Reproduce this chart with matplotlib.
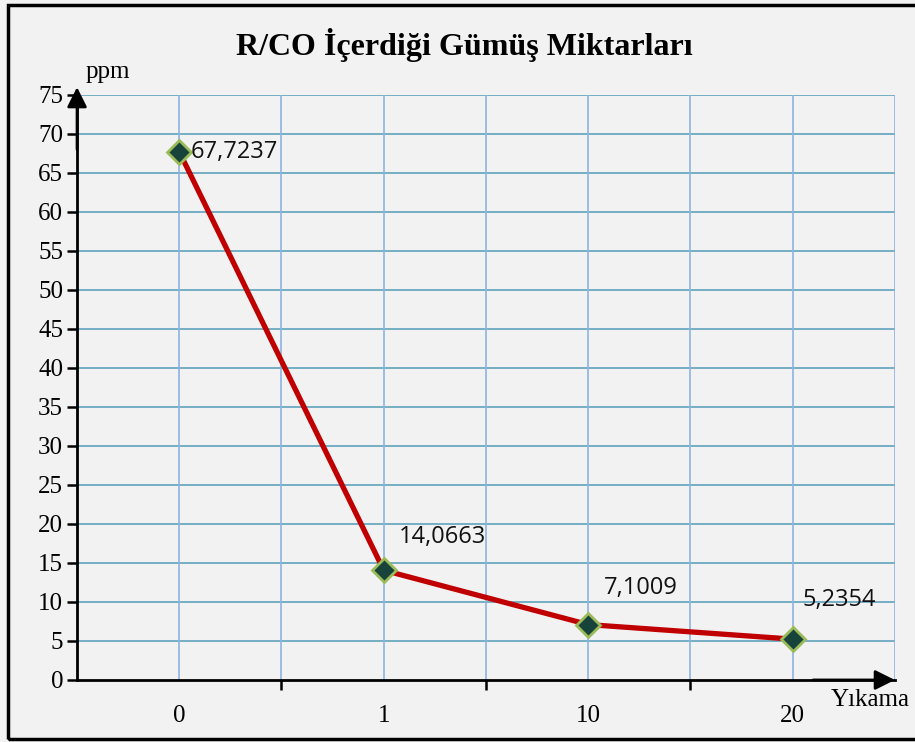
import matplotlib.pyplot as plt
from matplotlib.patches import Rectangle

# data
categories = ['0', '1', '10', '20']
values = [67.7237, 14.0663, 7.1009, 5.2354]
labels = ['67,7237', '14,0663', '7,1009', '5,2354']
label_offsets = [(8, 0), (11, 24), (11, 26), (7, 28)]
yticks = list(range(0, 80, 5))

fig = plt.figure(figsize=(9.15, 7.42), dpi=100)
fig.patch.set_facecolor('#f2f2f2')
ax = fig.add_axes([0.0842, 0.0836, 0.8938, 0.7884])
ax.set_facecolor('#f2f2f2')

x = list(range(len(categories)))

# grid
for yv in yticks[1:]:
    ax.axhline(yv, color='#5fa3bb', lw=1.2, zorder=1)
for xv in [i * 0.5 for i in range(0, 8)]:
    ax.axvline(xv, color='#8db3e2', lw=1.2, zorder=1)

ax.plot(x, values, color='#c00000', lw=3.8, zorder=3,
        marker='D', markersize=12, markerfacecolor='#17433a',
        markeredgecolor='#9bbb59', markeredgewidth=2)

for xi, v, lab, off in zip(x, values, labels, label_offsets):
    ax.annotate(lab, (xi, v), xytext=off, textcoords='offset points',
                ha='left', va='center', fontsize=17, family='Open Sans',
                color='#111111', zorder=4)

ax.set_xlim(-0.5, 3.5)
ax.set_ylim(0, 75)
ax.set_yticks(yticks)
ax.set_yticklabels([str(t) for t in yticks], family='Liberation Serif', fontsize=18)
ax.set_xticks([0.5, 1.5, 2.5])
ax.set_xticklabels([])
ax.tick_params(axis='y', direction='out', length=7, width=1.8, pad=3)
ax.tick_params(axis='x', direction='out', length=7, width=1.8)
for xi, c in zip(x, categories):
    ax.text(xi, -3.2, c, ha='center', va='top', family='Liberation Serif', fontsize=18)

for s in ['top', 'right']:
    ax.spines[s].set_visible(False)
ax.spines['left'].set_linewidth(2)
ax.spines['bottom'].set_linewidth(2)

# axis arrows
ax.annotate('', xy=(-0.5, 76), xytext=(-0.5, 68), annotation_clip=False,
            arrowprops=dict(arrowstyle='-|>', color='black', lw=2, mutation_scale=30,
                            shrinkA=0, shrinkB=0))
ax.annotate('', xy=(3.5, 0), xytext=(3.1, 0), annotation_clip=False,
            arrowprops=dict(arrowstyle='-|>', color='black', lw=2, mutation_scale=30,
                            shrinkA=0, shrinkB=0))

fig.text(0.994, 0.056, 'Yıkama', ha='right', va='center', family='Liberation Serif', fontsize=18)
fig.text(0.093, 0.903, 'ppm', ha='left', va='center', family='Liberation Serif', fontsize=18)
fig.text(0.508, 0.94, 'R/CO İçerdiği Gümüş Miktarları', ha='center', va='center',
         family='Liberation Serif', fontsize=23, fontweight='bold')

fig.patches.append(Rectangle((0.009, 0.004), 1.0, 0.989, transform=fig.transFigure,
                             fill=False, edgecolor='black', lw=2.5))

fig.savefig('out.png', dpi=100, facecolor=fig.get_facecolor())
